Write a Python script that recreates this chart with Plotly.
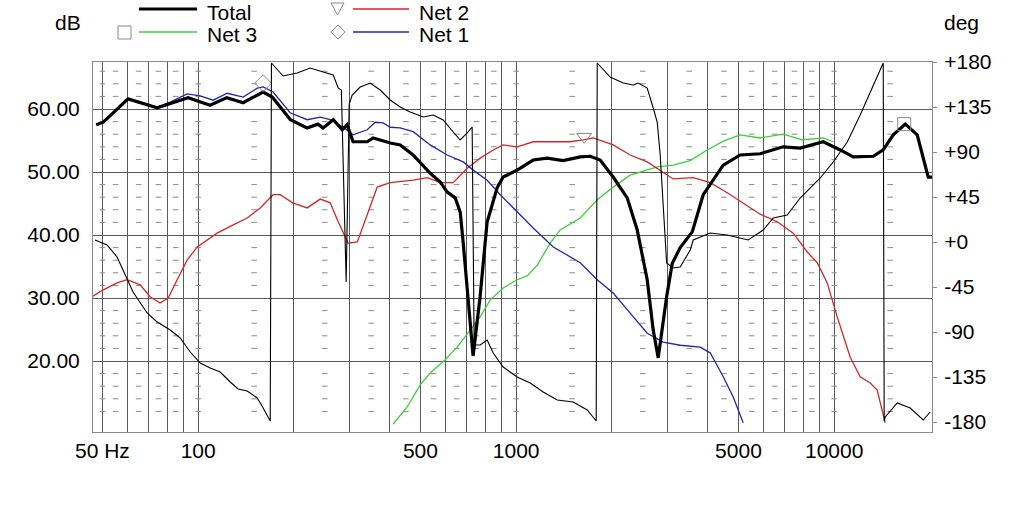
import math
import plotly.graph_objects as go

# ---- data (frequency in Hz, level in dB, phase in deg) ----
freq_total = [47.8, 50.3, 60.2, 74.3, 93, 109, 123, 138.5, 160, 171, 195, 220, 238, 247, 266,
              284, 294, 307, 340, 355, 402, 432, 474, 537, 577, 607, 643, 667, 681, 706, 732,
              770, 790, 810, 871, 910, 1007, 1131, 1252, 1405, 1590, 1709, 1837, 2018, 2234,
              2402, 2582, 2697, 2796, 2876, 2972, 3096, 3279, 3578, 3874, 4478, 5063, 5852,
              6912, 7818, 9235, 10445, 11475, 13266, 14260, 15330, 16730, 18240, 19750, 20300]
db_total = [57.5, 57.9, 61.6, 60.2, 61.8, 60.6, 61.8, 61.0, 62.7, 61.9, 58.3, 57.0, 57.6, 57.0, 58.3,
            56.7, 57.5, 54.8, 54.8, 55.4, 54.6, 54.3, 52.7, 49.8, 48.4, 46.8, 45.9, 43.6, 38.9, 30.2, 20.8,
            30.2, 36.5, 42.0, 47.5, 49.2, 50.3, 51.9, 52.2, 51.8, 52.4, 52.5, 51.9, 49.2, 45.9,
            40.8, 32.9, 24.9, 20.5, 24.9, 30.2, 35.5, 38.0, 40.5, 46.4, 51.1, 52.7, 52.9,
            54.0, 53.8, 54.8, 53.5, 52.4, 52.5, 53.5, 55.9, 57.6, 55.9, 49.2, 49.2]

freq_net1 = [47.8, 50.3, 60.2, 74.3, 81.7, 92.3, 101.5, 111.5, 123.4, 138.5, 153.3, 160.1, 172.1,
             194.6, 220.2, 241.9, 260.1, 285.8, 307.2, 340.1, 360.3, 381.8, 401.6, 431.6, 474.5,
             536.6, 606.7, 681.4, 732.4, 810.5, 891, 1007, 1131, 1308, 1590, 1798, 2018, 2283,
             2582, 2899, 3279, 3790, 4074, 4478, 4813, 5173]
db_net1 = [57.5, 57.9, 61.6, 60.3, 61.1, 62.4, 62.1, 61.4, 62.5, 61.9, 63.3, 63.5, 62.7,
           59.4, 58.3, 58.7, 58.3, 57.1, 55.9, 56.7, 57.9, 57.8, 57.1, 57.0, 56.4,
           54.3, 52.7, 51.6, 50.3, 48.7, 46.4, 43.7, 41.1, 38.1, 35.6, 32.9, 30.8, 27.6,
           24.4, 23.0, 22.5, 22.2, 21.3, 17.5, 14.3, 10.2]

freq_net2 = [46.7, 50.3, 55.6, 59.8, 65.7, 70.6, 75.9, 80.5, 85.9, 92.3, 99.3, 106.7, 114.7, 128.9,
             142.6, 156.7, 172.1, 181.1, 198.3, 220.2, 241.9, 260.1, 275.6, 296.3, 316.5, 340.1,
             365.6, 401.6, 474.5, 525, 576.8, 633.9, 701.5, 770.5, 846.9, 910, 1007, 1131, 1308,
             1478, 1624, 1747, 2018, 2283, 2582, 2837, 3116, 3603, 4074, 4607, 5173, 5852, 6620,
             7432, 8228, 8843, 9506, 10220, 11230, 12070, 12980, 13650, 14470]
db_net2 = [30.3, 31.3, 32.4, 32.9, 32.1, 30.2, 29.2, 30.0, 32.9, 36.0, 38.1, 39.2, 40.3, 41.6,
           42.7, 44.3, 46.4, 46.4, 45.1, 44.3, 45.7, 45.1, 42.1, 38.7, 38.9, 43.2,
           47.6, 48.3, 48.7, 49.1, 48.3, 48.3, 50.6, 52.2, 53.5, 54.3, 54.0, 54.8, 54.8,
           54.8, 55.1, 55.4, 54.3, 52.7, 51.6, 50.3, 48.9, 49.1, 48.3, 46.7, 45.1, 43.3, 42.1,
           40.3, 37.3, 35.6, 32.4, 27.0, 20.6, 17.5, 16.5, 15.4, 10.2]

freq_net3 = [410.5, 454.2, 499, 536.6, 597.9, 652.4, 716.8, 770.5, 828.6, 910, 1007, 1083, 1164,
             1279, 1375, 1590, 1798, 2018, 2283, 2582, 2776, 3116, 3526, 3987, 4478, 5063, 5852,
             6912, 7933, 9235, 9929]
db_net3 = [10.0, 12.7, 16.2, 18.1, 20.2, 22.2, 24.9, 27.0, 29.7, 31.6, 32.9, 33.5, 35.2,
           38.7, 40.8, 42.7, 45.6, 47.6, 49.5, 50.3, 50.8, 51.1, 51.8, 53.5, 54.9, 55.9, 55.4,
           56.0, 55.1, 55.4, 54.8]

freq_phase = [47.4, 51.7, 55.6, 58.1, 62.4, 69.1, 74.3, 81.7, 87.8, 94.4, 101.5, 109.1, 117.3, 126.1,
              133.6, 142.6, 153.3, 160.1, 167.2, 168.5, 170, 185, 204.8, 225, 247.3, 265.9, 275.6,
              282, 292, 298.5, 305, 323.2, 347.4, 373.6, 401.6, 431.6, 464.3, 510, 548.3, 589.4,
              633.9, 666.7, 701.5, 727, 737.7, 770.5, 810.5, 846.9, 910, 1007, 1107, 1216, 1346,
              1511, 1673, 1785, 1798, 1975, 2170, 2333, 2419, 2582, 2697, 2776, 2837, 2878, 2942,
              2972, 3116, 3279, 3526, 3603, 4074, 4607, 5365, 5981, 6430, 7115, 7818, 9036, 9929,
              10990, 12070, 13266, 14260, 14360, 14470, 15780, 17340, 19050, 20040]
deg_phase = [2, -3, -15, -28, -50, -71, -80, -88, -96, -110, -121, -126, -130, -140,
             -147, -149, -156, -166, -177, -179, 179, 166, 169, 174, 170, 167, 154,
             152, -40, 138, 147, 155, 159, 152, 142, 135, 130, 125, 127, 122,
             110, 102, 109, 115, -103, -103, -98, -111, -125, -135, -141, -150, -158,
             -160, -168, -179, 179, 165, 159, 157, 159, 154, 134, 120, 87, 54, 2,
             -21, -26, -25, -8, 2, 9, 7, 2, 12, 24, 27, 44, 64, 80,
             100, 127, 157, 179, -179, -175, -161, -166, -178, -170]

# curve identification symbols
sym_freq = [160, 1636, 16600]
sym_db = [64.1, 55.6, 57.6]
sym_shape = ["diamond-open", "triangle-down-open", "square-open"]

# axes
grid_freqs = [50, 60, 70, 80, 90, 100, 200, 300, 400, 500, 600, 700, 800, 900,
              1000, 2000, 3000, 4000, 5000, 6000, 7000, 8000, 9000, 10000]
freq_labels = {50: "50 Hz", 100: "100", 500: "500", 1000: "1000", 5000: "5000", 10000: "10000"}
db_ticks = [20, 30, 40, 50, 60]
deg_ticks = [-180, -135, -90, -45, 0, 45, 90, 135, 180]
deg_labels = ["-180", "-135", "-90", "-45", "+0", "+45", "+90", "+135", "+180"]

# small dash marks of the dotted minor grid
dash_freqs = [50, 55, 65, 75, 85, 100, 150, 250, 350, 450, 550, 650, 750, 850,
              1000, 1500, 2500, 3500, 4500, 5500, 6500, 7500, 8500, 10000, 15000]
dash_levels = [v for v in range(12, 68, 2) if v % 10 != 0]

FONT = "Liberation Sans, Arial, sans-serif"
# plot frame in window pixels
W, H = 1024, 510
PL, PR, PT, PB = 93, 932, 62, 432
L, T = PL, PT
R, B = W - PR, H - PB


def px(x):
    return (x - PL) / (PR - PL)


def py(y):
    return (PB - y) / (PB - PT)


fig = go.Figure()

dx, dy = [], []
for f in dash_freqs:
    for v in dash_levels:
        dx.append(f)
        dy.append(v)
fig.add_trace(go.Scatter(x=dx, y=dy, mode="markers", hoverinfo="skip",
                         marker=dict(symbol="line-ew", size=4,
                                     line=dict(color="#8a8a8a", width=1))))

fig.add_trace(go.Scatter(x=freq_phase, y=deg_phase, yaxis="y2", mode="lines",
                         line=dict(color="black", width=1.1), name="Phase"))
fig.add_trace(go.Scatter(x=freq_net3, y=db_net3, mode="lines",
                         line=dict(color="#3ccf3c", width=1.3), name="Net 3"))
fig.add_trace(go.Scatter(x=freq_net2, y=db_net2, mode="lines",
                         line=dict(color="#d02828", width=1.3), name="Net 2"))
fig.add_trace(go.Scatter(x=freq_net1, y=db_net1, mode="lines",
                         line=dict(color="#2424b0", width=1.3), name="Net 1"))
fig.add_trace(go.Scatter(x=freq_total, y=db_total, mode="lines",
                         line=dict(color="black", width=3.2), name="Total"))
fig.add_trace(go.Scatter(x=sym_freq, y=sym_db, mode="markers", hoverinfo="skip",
                         marker=dict(symbol=sym_shape, size=13, color="#8a8a8a",
                                     line=dict(color="#8a8a8a", width=1))))

# header legend, drawn by hand to match the original layout
shapes = []
for (x0, x1, y, color, width) in [(139, 197, 9, "black", 3.2), (139, 197, 32, "#3ccf3c", 1.3),
                                   (353, 409, 9, "#d02828", 1.3), (353, 409, 32, "#2424b0", 1.3)]:
    shapes.append(dict(type="line", xref="paper", yref="paper", x0=px(x0), x1=px(x1),
                       y0=py(y), y1=py(y), line=dict(color=color, width=width)))
shapes.append(dict(type="rect", xref="paper", yref="paper", x0=px(118), x1=px(131),
                   y0=py(39), y1=py(26), line=dict(color="#8a8a8a", width=1)))
shapes.append(dict(type="path", xref="paper", yref="paper",
                   path=f"M {px(331)},{py(3)} L {px(344)},{py(3)} L {px(337.5)},{py(15)} Z",
                   line=dict(color="#8a8a8a", width=1)))
shapes.append(dict(type="path", xref="paper", yref="paper",
                   path=f"M {px(338)},{py(25)} L {px(345)},{py(32)} L {px(338)},{py(39)} L {px(331)},{py(32)} Z",
                   line=dict(color="#8a8a8a", width=1)))

annotations = []
for text, x, y, anchor in [("dB", 68, 23, "center"), ("deg", 961, 23, "center"),
                           ("Total", 205, 12, "left"), ("Net 3", 205, 34, "left"),
                           ("Net 2", 417, 12, "left"), ("Net 1", 417, 34, "left")]:
    annotations.append(dict(text=text, x=px(x), y=py(y), xref="paper", yref="paper",
                            xanchor=anchor, yanchor="middle", showarrow=False,
                            font=dict(family=FONT, size=21, color="black")))

fig.update_layout(
    width=W, height=H, autosize=False,
    margin=dict(l=L, r=R, t=T, b=B, pad=0),
    paper_bgcolor="white", plot_bgcolor="white",
    showlegend=False,
    font=dict(family=FONT, size=21, color="black"),
    shapes=shapes, annotations=annotations,
    xaxis=dict(type="log", range=[math.log10(46.7), math.log10(20300)],
               tickmode="array", tickvals=grid_freqs,
               ticktext=[freq_labels.get(f, "") for f in grid_freqs],
               showgrid=True, gridcolor="#5a5a5a", gridwidth=1,
               showline=True, mirror=True, linecolor="#8a8a8a", linewidth=1,
               ticks="", zeroline=False),
    yaxis=dict(range=[8.73, 67.46], tickmode="array", tickvals=db_ticks,
               ticktext=[f"{v:.2f}" for v in db_ticks],
               showgrid=True, gridcolor="#5a5a5a", gridwidth=1,
               showline=True, mirror=True, linecolor="#8a8a8a", linewidth=1,
               ticks="", ticklabelstandoff=8, zeroline=False),
    yaxis2=dict(range=[-190, 180], overlaying="y", side="right", tickmode="array",
                tickvals=deg_ticks, ticktext=deg_labels, showgrid=False,
                ticks="outside", ticklen=4, tickcolor="#8a8a8a", zeroline=False,
                ticklabelstandoff=3),
)

# drop the browser's default 8 px page margin so the chart sits at the window corner
fig.write_html("out.html", config={"displayModeBar": False},
               post_script="document.body.style.margin = '0';")
